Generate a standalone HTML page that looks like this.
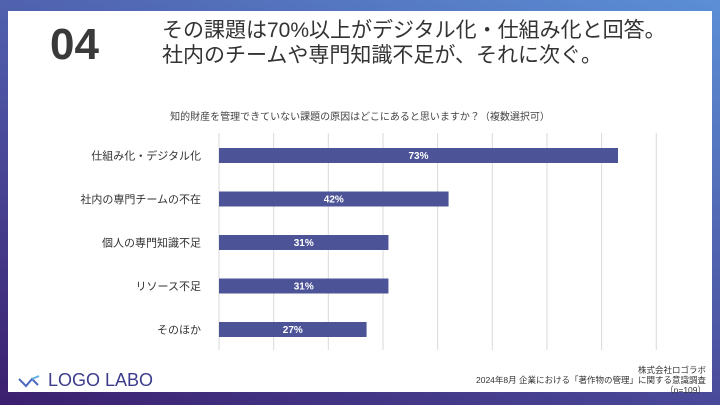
<!DOCTYPE html>
<html><head><meta charset="utf-8"><style>
body{margin:0;width:720px;height:405px;overflow:hidden;font-family:"Liberation Sans","Noto Sans CJK JP",sans-serif;}
#bg{position:absolute;left:0;top:0;width:720px;height:405px;background:linear-gradient(20deg,#3b1f6e 0%,#4a4a9a 40%,#5b8fd6 100%);}
#panel{position:absolute;left:8px;top:11px;width:704px;height:381px;background:#fff;}
.t{position:absolute;white-space:nowrap;color:#333;}
</style></head><body>
<div id="bg"></div>
<div id="panel"></div>
<div class="t" style="left:50px;top:20px;font-size:44px;font-weight:bold;color:#3a3a3a;">04</div>
<div class="t" style="left:162px;top:18px;font-size:21px;line-height:25px;color:#333;">その課題は70%以上がデジタル化・仕組み化と回答。<br>社内のチームや専門知識不足が、それに次ぐ。</div>
<div class="t" style="left:0;width:720px;text-align:center;top:108px;font-size:10px;color:#444;">知的財産を管理できていない課題の原因はどこにあると思いますか？（複数選択可）</div>
<svg id="chart" width="720" height="405" style="position:absolute;left:0;top:0"></svg>
<svg width="30" height="14" style="position:absolute;left:17px;top:374px"><path d="M2 5 L9 12 L15 5 L21 11" fill="none" stroke="#4a68c0" stroke-width="2"/><path d="M15 5 L22 2" stroke="#5fb0e0" stroke-width="2"/></svg>
<div class="t" style="left:48px;top:370px;font-size:18px;color:#3c3c8c;">LOGO LABO</div>
<div class="t" style="right:14px;top:365px;font-size:8.5px;line-height:10px;text-align:right;color:#333;">株式会社ロゴラボ<br>2024年8月 企業における「著作物の管理」に関する意識調査<br>（n=109）</div>
<script>
const categories=["仕組み化・デジタル化","社内の専門チームの不在","個人の専門知識不足","リソース不足","そのほか"];
const values=[73,42,31,31,27];
const ticks=[0,10,20,30,40,50,60,70,80];
const svg=document.getElementById('chart');
const NS='http://www.w3.org/2000/svg';
const x=v=>219+v*5.466;
const yC=i=>155.5+i*43.5;
const gTop=133,gBot=350;
ticks.forEach(t=>{const l=document.createElementNS(NS,'line');
l.setAttribute('x1',x(t));l.setAttribute('x2',x(t));l.setAttribute('y1',gTop);l.setAttribute('y2',gBot);
l.setAttribute('stroke','#d9d9d9');l.setAttribute('stroke-width','1');


svg.appendChild(l);});
categories.forEach((c,i)=>{
const r=document.createElementNS(NS,'rect');
r.setAttribute('x',x(0));r.setAttribute('y',yC(i)-7.5);r.setAttribute('width',x(values[i])-x(0));r.setAttribute('height',15);r.setAttribute('fill','#4c5497');


svg.appendChild(r);
const lb=document.createElementNS(NS,'text');
lb.setAttribute('x',201);lb.setAttribute('y',yC(i)+4);lb.setAttribute('text-anchor','end');lb.setAttribute('font-size','11');lb.setAttribute('fill','#333');lb.textContent=c;


svg.appendChild(lb);
const v=document.createElementNS(NS,'text');
v.setAttribute('x',(x(0)+x(values[i]))/2);v.setAttribute('y',yC(i)+3.5);v.setAttribute('text-anchor','middle');v.setAttribute('font-size','10');v.setAttribute('font-weight','bold');v.setAttribute('fill','#fff');v.textContent=values[i]+'%';


svg.appendChild(v);
});
</script>
</body></html>
